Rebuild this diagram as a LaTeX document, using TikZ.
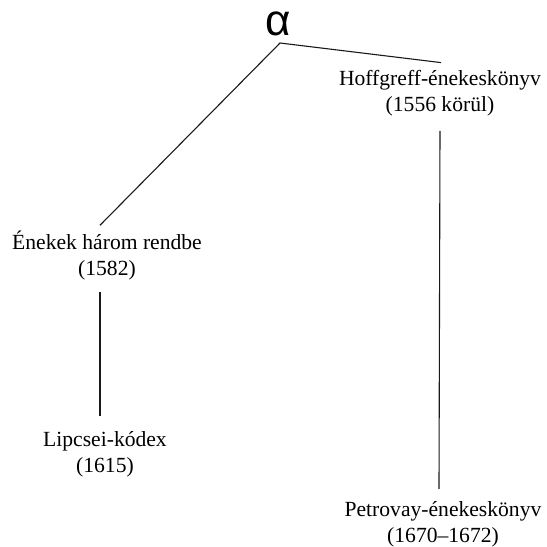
\documentclass[tikz,border=0pt]{standalone}
\usepackage{fontspec}
\setmainfont{Liberation Serif}
\newfontfamily\greekfont{Liberation Sans}
\usetikzlibrary{calc}
\begin{document}
\begin{tikzpicture}[x=1pt,y=-1pt,
  lbl/.style={font=\fontsize{21.6}{26}\selectfont, align=center, inner sep=0pt, anchor=base},
  link/.style={line width=1.1pt, draw=black!90}]
\useasboundingbox (0,0) rectangle (547,547);
% root of the stemma
\node[inner sep=0pt, anchor=base, font=\greekfont\fontsize{44}{44}\selectfont] (alpha) at (278,35) {α};
\coordinate (apex) at (280,43);
% witnesses (base = baseline of the second line)
\node[lbl] (hoff) at (440,111) {Hoffgreff-énekeskönyv\\(1556 körül)};
\node[lbl] (enekek) at (107,275) {Énekek három rendbe\\(1582)};
\node[lbl] (lipcsei) at (105,472) {Lipcsei-kódex\\(1615)};
\node[lbl] (petrovay) at (443,542) {Petrovay-énekeskönyv\\(1670–1672)};
% branches
\draw[link] ($(enekek.north)+(-7,-5)$) -- (apex) -- ($(hoff.north)+(1,-7)$);
\draw[link] ($(enekek.south)+(-7,12)$) -- ($(lipcsei.north)+(-5,-15)$);
\draw[link] ($(hoff.south)+(0,15)$) -- ($(petrovay.north)+(-4,-12)$);
\end{tikzpicture}
\end{document}
